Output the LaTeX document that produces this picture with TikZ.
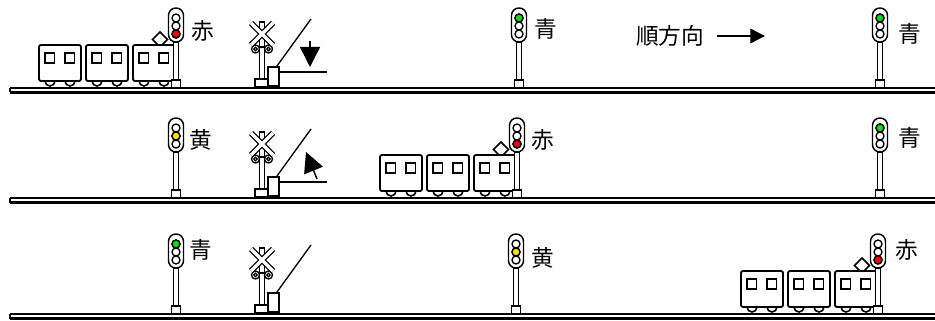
\documentclass[tikz,border=0pt]{standalone}
\usepackage{fontspec}
\setmainfont{Noto Sans CJK JP}
\usetikzlibrary{arrows.meta}

\begin{document}
\begin{tikzpicture}[x=0.75pt, y=-0.75pt, line width=1pt,
  sigtext/.style={font=\fontsize{17}{20}\selectfont, inner sep=0pt},
  rail/.style={line width=1.9pt},
  gatearrow/.style={-{Triangle[length=15pt, width=15pt]}, line width=1.1pt},
  dirarrow/.style={-{Triangle[length=11pt, width=11pt]}, line width=1.1pt},
  % signal: #1 = lit lamp (1 top), #2 = its colour
  pics/signal/.style 2 args={code={
    \draw[fill=white] (-2.2,-46) rectangle (2.2,-8);
    \draw[fill=white] (-4.5,-8) rectangle (4.5,0);
    \draw[fill=white, rounded corners=5.5pt, line width=1.1pt] (-7.5,-80) rectangle (7.5,-46);
    \foreach \k in {1,2,3}
      \draw[fill=white] (0,{-78+8*\k}) circle[radius=4];
    \draw[fill=#2] (0,{-78+8*#1}) circle[radius=4];
  }},
  % three cars, front end at the mast
  pics/train/.style={code={
    \draw[fill=white, line width=1.2pt] (-16,-56) -- (-8.5,-48.5) -- (-16,-41) -- (-23.5,-48.5) -- cycle;
    \foreach \c in {0,1,2} {
      \pgfmathsetmacro{\cx}{-137+47*\c}
      \draw[fill=white, line width=1.2pt] (\cx+11,-7) circle[radius=5];
      \draw[fill=white, line width=1.2pt] (\cx+31,-7) circle[radius=5];
      \draw[fill=white, rounded corners=1.5pt, line width=1.4pt] (\cx,-43) rectangle (\cx+42,-7);
      \draw[line width=1.2pt] (\cx+6,-35) rectangle ++(9.5,10);
      \draw[line width=1.2pt] (\cx+26,-35) rectangle ++(9.5,10);
    }
  }},
  % level crossing with gate
  pics/crossing/.style={code={
    \draw[fill=white] (-2.2,-66) rectangle (2.2,-9);
    \draw[fill=white] (-7,-9) rectangle (6,-1);
    \draw (-6.5,-41) -- (6.5,-41);
    \foreach \s in {-1,1} {
      \draw[fill=white] (6.5*\s,-39) circle[radius=4];
      \draw (6.5*\s,-39) circle[radius=1.8];
    }
    \draw[double=white, double distance=2.6pt, line width=0.9pt]
      (-11,-65) -- (11,-43) (-11,-43) -- (11,-65);
    \draw (15,-22) -- (49,-69);
    \draw[fill=white] (6,-21) rectangle (17,-2);
  }}
]
  \useasboundingbox (0,0) rectangle (935,321);

  % tracks
  \foreach \t in {88,198,314} {
    \draw (10,\t) -- (935,\t);
    \draw (10,\t) -- (10,\t+4.5);
    \draw[rail] (10,\t+4.5) -- (935,\t+4.5);
  }

  % row 1
  \pic (xa) at (262,88) {crossing};
  \pic (ta) at (176,88) {train};
  \pic (sa1) at (176,88) {signal={3}{red}};
  \pic (sa2) at (519,88) {signal={1}{green!80!black!60!green}};
  \pic (sa3) at (880,88) {signal={1}{green!80!black!60!green}};
  \node[sigtext] (na1) at (203,31) {赤};
  \node[sigtext] (na2) at (546,29) {青};
  \node[sigtext] (na3) at (910,34) {青};
  \node[sigtext] (dir) at (670,36) {順方向};
  \coordinate (dirs) at (717,36);
  \coordinate (dire) at (765,36);
  \draw[dirarrow] (dirs) -- (dire);
  \coordinate (ga) at (279,72);
  \coordinate (gaend) at (327,72);
  \draw (ga) -- (gaend);
  \coordinate (mas) at (310,41);
  \coordinate (mae) at (310,67);
  \draw[gatearrow] (mas) -- (mae);

  % row 2
  \pic (xb) at (262,198) {crossing};
  \pic (tb) at (517,198) {train};
  \pic (sb1) at (176,198) {signal={2}{yellow!85!orange}};
  \pic (sb2) at (517,198) {signal={3}{red}};
  \pic (sb3) at (880,198) {signal={1}{green!80!black!60!green}};
  \node[sigtext] (nb1) at (201,140) {黄};
  \node[sigtext] (nb2) at (543,140) {赤};
  \node[sigtext] (nb3) at (910,138) {青};
  \coordinate (gb) at (279,182);
  \coordinate (gbend) at (327,182);
  \draw (gb) -- (gbend);
  \coordinate (mbs) at (317,179);
  \coordinate (mbe) at (306,152);
  \draw[gatearrow] (mbs) -- (mbe);

  % row 3
  \pic (xc) at (262,314) {crossing};
  \pic (tc) at (878,314) {train};
  \pic (sc1) at (176,314) {signal={1}{green!80!black!60!green}};
  \pic (sc2) at (516,314) {signal={2}{yellow!85!orange}};
  \pic (sc3) at (878,314) {signal={3}{red}};
  \node[sigtext] (nc1) at (201,250) {青};
  \node[sigtext] (nc2) at (543,258) {黄};
  \node[sigtext] (nc3) at (907,250) {赤};
\end{tikzpicture}
\end{document}
